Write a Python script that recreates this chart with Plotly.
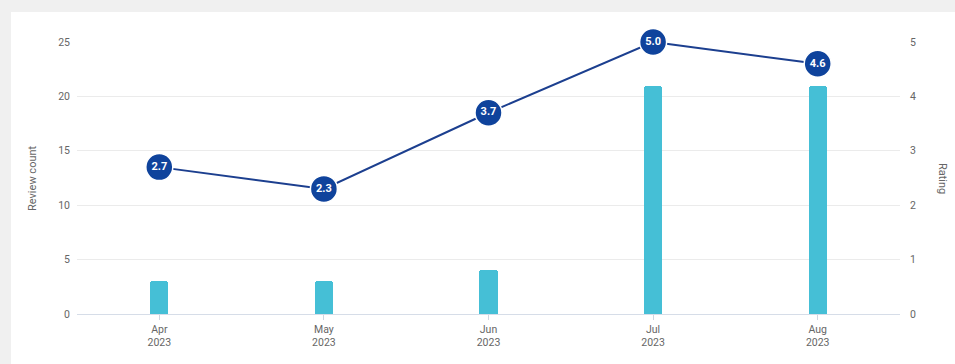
import plotly.graph_objects as go

months = ["Apr<br>2023", "May<br>2023", "Jun<br>2023", "Jul<br>2023", "Aug<br>2023"]
review_counts = [3, 3, 4, 21, 21]
ratings = [2.7, 2.3, 3.7, 5.0, 4.6]
left_ticks = [0, 5, 10, 15, 20, 25]
right_ticks = [0, 1, 2, 3, 4, 5]

W, H = 955, 364
ML, MR, MT, MB = 77, 55, 42, 50
pw = W - ML - MR
ph = H - MT - MB

def px_x(p):
    return (p - ML) / pw

def px_y(p):
    return (H - MB - p) / ph

fig = go.Figure()
fig.add_trace(go.Bar(
    x=months, y=review_counts, width=0.11,
    marker=dict(color="#45bfd6", cornerradius=3, line=dict(width=0)),
    yaxis="y", hoverinfo="skip", showlegend=False,
))
fig.add_trace(go.Scatter(
    x=months, y=ratings, yaxis="y2", mode="lines+markers+text",
    line=dict(color="#1c3f8f", width=2),
    marker=dict(size=27, color="#0f439c", line=dict(color="white", width=1.5)),
    text=[f"{v:.1f}" for v in ratings], textposition="middle center",
    textfont=dict(color="white", size=11, family="Roboto", weight="bold"),
    hoverinfo="skip", showlegend=False, cliponaxis=False,
))

tick_font = dict(family="Roboto", size=10.5, color="#666666")
fig.update_layout(
    width=W, height=H,
    margin=dict(l=ML, r=MR, t=MT, b=MB, pad=0),
    paper_bgcolor="#f0f0f0", plot_bgcolor="rgba(0,0,0,0)",
    bargap=0,
    xaxis=dict(
        type="category", range=[-0.5, 4.5], showgrid=False,
        showline=True, linecolor="#d6dde8", linewidth=1,
        ticks="outside", ticklen=5, tickcolor="#cfd6e0", tickwidth=1,
        tickfont=tick_font, zeroline=False, fixedrange=True,
    ),
    yaxis=dict(
        range=[0, 25], tickvals=left_ticks, showgrid=True, gridcolor="#ebebeb",
        gridwidth=1, zeroline=False, showline=False, tickfont=tick_font,
        ticklabelstandoff=6, fixedrange=True,
    ),
    yaxis2=dict(
        range=[0, 5], tickvals=right_ticks, overlaying="y", side="right",
        showgrid=False, zeroline=False, showline=False, tickfont=tick_font,
        ticklabelstandoff=9, fixedrange=True,
    ),
    shapes=[dict(
        type="rect", xref="paper", yref="paper",
        x0=px_x(11), x1=px_x(960), y0=px_y(370), y1=px_y(12),
        fillcolor="white", line=dict(width=0), layer="below",
    )],
    annotations=[
        dict(text="Review count", xref="paper", yref="paper", x=px_x(32), y=0.5,
             xanchor="center", yanchor="middle",
             showarrow=False, textangle=-90, font=dict(family="Roboto", size=11, color="#666666")),
        dict(text="Rating", xref="paper", yref="paper", x=px_x(943), y=0.5,
             xanchor="center", yanchor="middle",
             showarrow=False, textangle=90, font=dict(family="Roboto", size=11, color="#666666")),
    ],
)

fig.write_html("out.html")
